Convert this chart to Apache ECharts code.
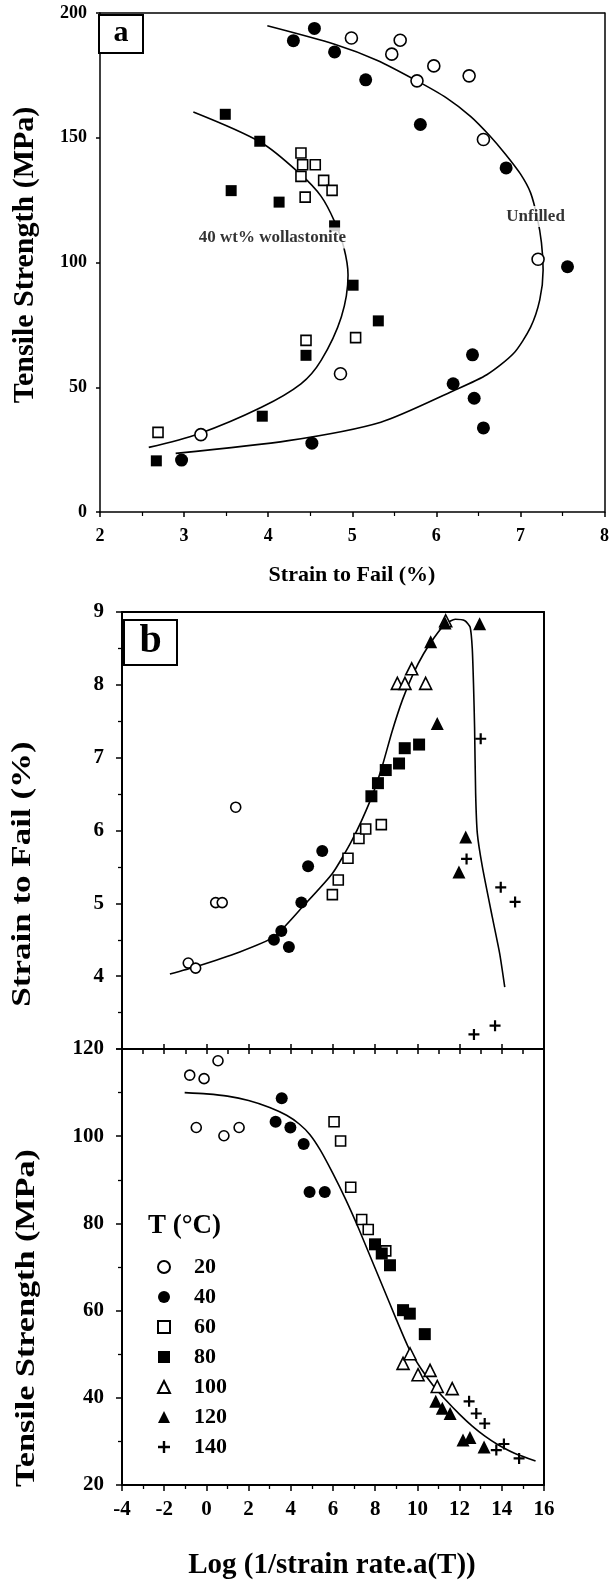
<!DOCTYPE html>
<html><head><meta charset="utf-8">
<script src="https://cdn.jsdelivr.net/npm/echarts@6/dist/echarts.min.js"></script>
<style>html,body{margin:0;padding:0;background:#fff}#c{width:612px;height:1580px}</style>
</head><body><div id="c"></div><script>
// ---------- Panel a data: [strain to fail %, tensile strength MPa] ----------
const aOpenCircles = [[4.99,190],[5.57,189.1],[5.47,183.5],[5.97,178.8],[6.39,174.8],[5.77,172.8],[6.56,149.3],[7.21,101.3],[4.86,55.4],[3.20,31.0]];
const aFilledCircles = [[4.30,188.9],[4.55,193.8],[4.79,184.4],[5.16,173.2],[5.81,155.3],[6.83,137.9],[7.56,98.3],[6.43,63.0],[6.20,51.4],[6.45,45.6],[6.56,33.7],[4.52,27.6],[2.97,20.8]];
const aOpenSquares = [[4.39,143.9],[4.41,139.2],[4.56,139.2],[4.39,134.5],[4.66,132.9],[4.76,128.9],[4.44,126.2],[4.45,68.8],[5.04,69.9],[2.69,31.9]];
const aFilledSquares = [[3.49,159.4],[3.90,148.6],[3.56,128.8],[4.13,124.2],[4.79,114.7],[5.01,90.9],[5.31,76.6],[4.45,62.8],[3.93,38.4],[2.67,20.5]];
const aUnfilledFit = [[3.99,194.9],[4.79,187.5],[5.3,181],[5.77,172.8],[6.12,166],[6.41,158.5],[6.63,151],[6.82,143.5],[7.0,135.5],[7.12,128],[7.20,118],[7.25,108],[7.27,97],[7.23,85],[7.12,74],[6.92,63.6],[6.60,55],[6.21,48.7],[5.34,36],[4.24,28.6],[2.90,23.5]];
const aWollFit = [[3.11,160.3],[3.92,148],[4.39,135.2],[4.63,126.5],[4.79,116.4],[4.9,106],[4.95,95],[4.87,78.2],[4.63,60.8],[4.39,51.4],[3.92,42],[3.17,31.3],[2.58,25.9]];
const aNotes = [{name:'Unfilled', value:[7.18,118.4]},{name:'40 wt% wollastonite', value:[4.05,109.8]}];
const aXTicks = [2,3,4,5,6,7,8];
const aYTicks = [0,50,100,150,200];

// ---------- Panel b data: [log(1/strain rate.a(T)), value] ----------
const tempNames = ['20','40','60','80','100','120','140'];
const u20 = [[1.39,6.32],[0.44,5.01],[0.75,5.01],[-0.86,4.18],[-0.51,4.11]];
const u40 = [[3.20,4.50],[3.55,4.62],[3.91,4.40],[4.50,5.01],[4.82,5.51],[5.49,5.72]];
const u60 = [[5.97,5.12],[6.25,5.32],[6.71,5.62],[7.23,5.89],[7.55,6.02],[8.29,6.08]];
const u80 = [[7.82,6.47],[8.13,6.65],[8.50,6.83],[9.13,6.92],[9.40,7.13],[10.08,7.18]];
const u100 = [[9.05,8.02],[9.41,8.02],[9.73,8.22],[10.39,8.02],[11.34,8.88]];
const u120 = [[10.63,8.59],[11.31,8.85],[12.95,8.84],[10.94,7.47],[12.29,5.91],[11.97,5.43]];
const u140 = [[13.0,7.26],[12.33,5.61],[13.95,5.22],[14.63,5.02],[12.68,3.20],[13.68,3.32]];
const uFit = [[-1.73,4.03],[-0.51,4.13],[1.55,4.33],[3.20,4.54],[4.55,4.95],[5.97,5.41],[6.91,5.87],[7.78,6.42],[8.3,6.85],[8.8,7.36],[9.3,7.8],[9.8,8.15],[10.3,8.43],[10.8,8.65],[11.3,8.83],[11.8,8.90],[12.25,8.88],[12.5,8.79],[12.6,8.5],[12.66,8.0],[12.71,7.42],[12.76,6.51],[12.84,5.96],[13.08,5.50],[13.55,4.81],[13.90,4.31],[14.14,3.85]];
const l20 = [[-0.79,114.0],[-0.11,113.2],[0.55,117.3],[-0.48,102.0],[0.83,100.1],[1.55,102.0]];
const l40 = [[3.57,108.7],[3.28,103.3],[3.98,102.0],[4.61,98.2],[4.89,87.2],[5.61,87.2]];
const l60 = [[6.05,103.3],[6.36,98.9],[6.84,88.3],[7.36,80.9],[7.67,78.6],[8.50,73.7]];
const l80 = [[7.99,75.2],[8.31,73.1],[8.70,70.4],[9.32,60.1],[9.64,59.3],[10.35,54.6]];
const l100 = [[9.32,47.9],[9.65,50.1],[10.03,45.3],[10.60,46.3],[10.94,42.6],[11.65,42.1]];
const l120 = [[10.87,39.2],[11.18,37.6],[11.55,36.4],[12.16,30.3],[12.49,30.9],[13.16,28.7]];
const l140 = [[12.45,39.2],[12.79,36.4],[13.19,34.1],[13.74,28.0],[14.10,29.4],[14.82,26.1]];
const lFit = [[-1.03,110],[0,109.7],[1,109.2],[2,108.2],[3,106.6],[3.8,104.8],[4.4,102.8],[4.9,100.4],[5.4,96.8],[6,91.4],[6.6,85.5],[7.2,79],[7.8,72],[8.4,65],[9,58],[9.6,51.3],[10.2,46.5],[10.8,42.5],[11.4,39.2],[12,36.2],[12.6,33.5],[13.2,31.2],[13.8,29.3],[14.6,27.3],[15.6,25.5]];
const bXTicks = [-4,-2,0,2,4,6,8,10,12,14,16];
const bUpperTicks = [4,5,6,7,8,9];
const bLowerTicks = [20,40,60,80,100,120];

// ---------- styling ----------
const FONT = "'Liberation Serif','Times New Roman',serif";
const K = '#000';
const PLUS = 'path://M4,0H6V4H10V6H6V10H4V6H0V4H4Z';
const lbl = (size, margin) => ({fontSize:size, fontWeight:'bold', fontFamily:FONT, color:K, margin:margin, showMinLabel:true, showMaxLabel:true});
const line = w => ({show:true, onZero:false, lineStyle:{color:K, width:w}});
const tick = (len, inside) => ({show:true, inside:inside, length:len, lineStyle:{color:K, width:1.5}});

function ax(grid, pos, min, max, interval, o) {
  return Object.assign({gridIndex:grid, type:'value', position:pos, min:min, max:max, interval:interval,
    axisLine:line(o.lw||1.5), axisTick:{show:false}, axisLabel:{show:false}, splitLine:{show:false}}, o.extra||{});
}

// axis index: panel a = 0, panel b upper = 2, panel b lower = 4 (odd indices are frame lines)
const xAxis = [
  ax(0,'bottom',aXTicks[0],aXTicks[aXTicks.length-1],1,{extra:{axisTick:tick(5,false), minorTick:{show:true,splitNumber:2,length:4,lineStyle:{color:K,width:1.2}}, axisLabel:lbl(18,15)}}),
  ax(0,'top',2,8,1,{}),
  ax(1,'bottom',-4,16,2,{lw:2,extra:{axisTick:tick(5,true)}}),
  ax(1,'top',-4,16,2,{lw:2}),
  ax(2,'bottom',bXTicks[0],bXTicks[bXTicks.length-1],2,{lw:2,extra:{axisTick:tick(6,false), minorTick:{show:true,splitNumber:2,length:4,lineStyle:{color:K,width:1.3}}, axisLabel:lbl(21,14)}}),
  ax(2,'top',-4,16,1,{lw:2,extra:{axisTick:tick(5,true)}})
];
const yAxis = [
  ax(0,'left',aYTicks[0],aYTicks[aYTicks.length-1],50,{extra:{axisTick:tick(4,false), axisLabel:lbl(18,13)}}),
  ax(0,'right',0,200,50,{}),
  ax(1,'left',3,9,1,{lw:2,extra:{axisTick:tick(6,false), minorTick:{show:true,splitNumber:2,length:4,lineStyle:{color:K,width:1.3}},
     axisLabel:Object.assign(lbl(21,18),{formatter:v=> bUpperTicks.indexOf(v)>=0 ? String(v) : ''})}}),
  ax(1,'right',3,9,1,{lw:2}),
  ax(2,'left',bLowerTicks[0],bLowerTicks[bLowerTicks.length-1],20,{lw:2,extra:{axisTick:tick(6,false), minorTick:{show:true,splitNumber:2,length:4,lineStyle:{color:K,width:1.3}}, axisLabel:lbl(21,18)}}),
  ax(2,'right',20,120,20,{lw:2})
];

const openStyle = {color:'#fff', borderColor:K, borderWidth:1.6, opacity:1};
const fillStyle = {color:K, borderColor:K, borderWidth:0, opacity:1};
function sc(name, data, xi, symbol, size, open) {
  return {type:'scatter', name:name, xAxisIndex:xi, yAxisIndex:xi, data:data, symbol:symbol, symbolSize:size,
    itemStyle: open ? openStyle : fillStyle, z:4, silent:true, emphasis:{disabled:true}};
}
function fit(data, xi, sm) {
  return {type:'line', xAxisIndex:xi, yAxisIndex:xi, data:data, smooth:sm, showSymbol:false, symbol:'none',
    lineStyle:{color:K, width:1.6}, z:2, silent:true, clip:true};
}
const syms = [['circle',10,true],['circle',12,false],['rect',10,true],['rect',12,false],['triangle',12,true],['triangle',13,false],[PLUS,11,false]];
const upper = [u20,u40,u60,u80,u100,u120,u140];
const lower = [l20,l40,l60,l80,l100,l120,l140];

const series = [
  fit(aUnfilledFit,0,0.25), fit(aWollFit,0,0.3),
  sc('a-open-circle', aOpenCircles, 0, 'circle', 12, true),
  sc('a-filled-circle', aFilledCircles, 0, 'circle', 13, false),
  sc('a-open-square', aOpenSquares, 0, 'rect', 10, true),
  sc('a-filled-square', aFilledSquares, 0, 'rect', 11, false),
  {type:'scatter', xAxisIndex:0, yAxisIndex:0, data:aNotes, symbolSize:1, itemStyle:{color:'rgba(0,0,0,0)'}, z:6, silent:true,
   label:{show:true, position:'inside', formatter:p=>p.name, fontSize:17, fontWeight:'bold', fontFamily:FONT, color:K, backgroundColor:'#fff', padding:[2,2]}},
  fit(uFit,2,0.2), fit(lFit,4,0.2)
];
tempNames.forEach((n,i)=>{
  series.push(sc(n, upper[i], 2, syms[i][0], syms[i][1], syms[i][2]));
  series.push(sc(n, lower[i], 4, syms[i][0], syms[i][1], syms[i][2]));
});

const chart = echarts.init(document.getElementById('c'));
chart.setOption({
  animation:false,
  backgroundColor:'#fff',
  grid:[
    {left:100, top:13, width:508, height:499},
    {left:122, top:612, width:422, height:437},
    {left:122, top:1049, width:422, height:436}
  ],
  xAxis:xAxis, yAxis:yAxis, series:series,
  legend:{orient:'vertical', left:152, top:1251, itemWidth:12, itemHeight:12, itemGap:8, selectedMode:false,
    data:tempNames, textStyle:{fontSize:22, fontWeight:'bold', fontFamily:FONT, color:K, padding:[0,0,0,19]}},
  graphic:[
    {type:'rect', shape:{x:99,y:15,width:44,height:38}, style:{fill:'#fff',stroke:K,lineWidth:2}, z:10},
    {type:'text', x:121, y:33, style:{text:'a', font:'bold 30px '+FONT, fill:K, align:'center', verticalAlign:'middle'}, z:11},
    {type:'rect', shape:{x:124,y:620,width:53,height:45}, style:{fill:'#fff',stroke:K,lineWidth:2}, z:10},
    {type:'text', x:150.5, y:642, style:{text:'b', font:'bold 40px '+FONT, fill:K, align:'center', verticalAlign:'middle'}, z:11},
    {type:'text', x:25, y:255, rotation:Math.PI/2, style:{text:'Tensile Strength (MPa)', font:'bold 30px '+FONT, fill:K, align:'center', verticalAlign:'middle'}},
    {type:'text', x:352, y:575, style:{text:'Strain to Fail (%)', font:'bold 22px '+FONT, fill:K, align:'center', verticalAlign:'middle'}},
    {type:'text', x:23, y:874, rotation:Math.PI/2, scaleX:1.25, style:{text:'Strain to Fail (%)', font:'bold 28px '+FONT, fill:K, align:'center', verticalAlign:'middle'}},
    {type:'text', x:27, y:1318, rotation:Math.PI/2, scaleX:1.22, style:{text:'Tensile Strength (MPa)', font:'bold 28px '+FONT, fill:K, align:'center', verticalAlign:'middle'}},
    {type:'text', x:332, y:1566, style:{text:'Log (1/strain rate.a(T))', font:'bold 29px '+FONT, fill:K, align:'center', verticalAlign:'middle'}},
    {type:'text', x:148, y:1226, style:{text:'T (°C)', font:'bold 27px '+FONT, fill:K, align:'left', verticalAlign:'middle'}}
  ]
});
</script></body></html>
